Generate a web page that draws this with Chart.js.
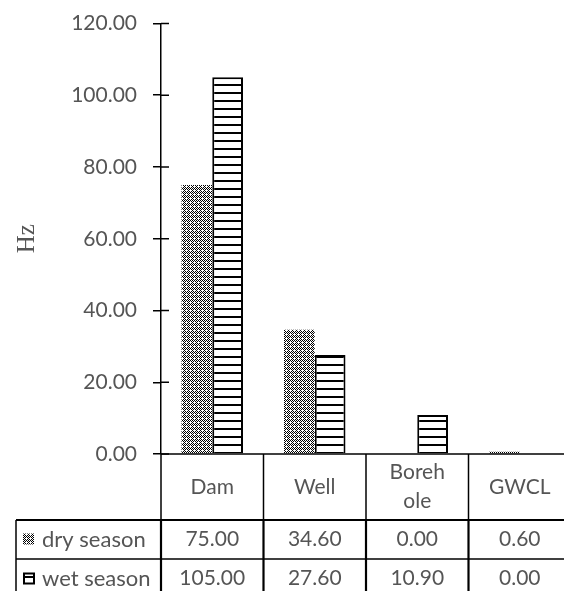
<!DOCTYPE html>
<html><head><meta charset="utf-8">
<script src="https://cdn.jsdelivr.net/npm/chart.js@4.4.1/dist/chart.umd.min.js"></script>
<style>
html,body{margin:0;padding:0;background:#fff;overflow:hidden;width:564px;height:591px}
#wrap{position:absolute;left:0;top:0;width:580px;height:591px}
</style>
</head><body><div id="wrap"><canvas id="c" width="580" height="591"></canvas></div>
<script>
const categories = ["Dam", "Well", "Borehole", "GWCL"];
const categoryLines = [["Dam"], ["Well"], ["Boreh", "ole"], ["GWCL"]];
const seriesNames = ["dry season", "wet season"];
const drySeason = [75.00, 34.60, 0.00, 0.60];
const wetSeason = [105.00, 27.60, 10.90, 0.00];
const yMin = 0, yMax = 120, yStep = 20;
const yTitle = "Hz";

const TEXT = '#555555';
const FONT = 'Lato';
const canvas = document.getElementById('c');
const mainCtx = canvas.getContext('2d');

function makeDry() {
  const c = document.createElement('canvas'); c.width = 4; c.height = 4;
  const g = c.getContext('2d');
  g.fillStyle = '#fff'; g.fillRect(0, 0, 4, 4); g.fillStyle = '#000';
  for (let y = 0; y < 4; y++) for (let x = 0; x < 4; x++) {
    if ((x + y) % 2 === 0 && !(x === 2 && y === 2)) g.fillRect(x, y, 1, 1);
  }
  return mainCtx.createPattern(c, 'repeat');
}
function makeWet() {
  const c = document.createElement('canvas'); c.width = 8; c.height = 8;
  const g = c.getContext('2d');
  g.fillStyle = '#fff'; g.fillRect(0, 0, 8, 8);
  g.fillStyle = '#000'; g.fillRect(0, 4, 8, 2);
  return mainCtx.createPattern(c, 'repeat');
}
const dryPat = makeDry();
const wetPat = makeWet();

const crossTicks = {
  id: 'crossTicks',
  afterDatasetsDraw(chart) {
    const { ctx, scales: { y } } = chart;
    ctx.save();
    ctx.strokeStyle = '#000'; ctx.lineWidth = 1.5;
    y.ticks.forEach(t => {
      const py = y.getPixelForValue(t.value);
      ctx.beginPath(); ctx.moveTo(y.right, py); ctx.lineTo(y.right + 8, py); ctx.stroke();
    });
    ctx.restore();
  }
};

const tablePlugin = {
  id: 'dataTable',
  afterDraw(chart) {
    const { ctx, chartArea: ca, scales: { x } } = chart;
    const n = categories.length;
    const colW = (ca.right - ca.left) / n;
    const legendLeft = 16;
    const top = ca.bottom, r1 = top + 66, r2 = r1 + 39, r3 = r2 + 39;
    const line = (x1, y1, x2, y2, w) => { ctx.lineWidth = w; ctx.beginPath(); ctx.moveTo(x1, y1); ctx.lineTo(x2, y2); ctx.stroke(); };
    ctx.save();
    ctx.strokeStyle = '#000';
    line(ca.left, top, ca.right, top, 1.5);
    line(legendLeft, r1, ca.right, r1, 1.8);
    line(legendLeft, r2, ca.right, r2, 1.5);
    line(legendLeft, r3, ca.right, r3, 1.5);
    line(legendLeft, r1, legendLeft, r3, 1.5);
    for (let i = 0; i <= n; i++) {
      const xx = x.getPixelForValue(0) - colW / 2 + i * colW;
      line(xx, top, xx, r1, 1.5);
      line(xx, r1, xx, r3, 2.2);
    }
    ctx.fillStyle = TEXT;
    ctx.font = '21px ' + FONT;
    ctx.textAlign = 'center'; ctx.textBaseline = 'middle';
    const series = [drySeason, wetSeason];
    for (let i = 0; i < n; i++) {
      const cx = x.getPixelForValue(i);
      const lines = categoryLines[i];
      const lh = 29;
      const cy = (top + r1) / 2;
      lines.forEach((s, k) => ctx.fillText(s, cx, cy + (k - (lines.length - 1) / 2) * lh));
      ctx.fillText(series[0][i].toFixed(2), cx, (r1 + r2) / 2);
      ctx.fillText(series[1][i].toFixed(2), cx, (r2 + r3) / 2);
    }
    // legend keys
    ctx.textAlign = 'left';
    const keyX = 23;
    const cy1 = (r1 + r2) / 2, cy2 = (r2 + r3) / 2;
    ctx.fillStyle = dryPat; ctx.fillRect(keyX, cy1 - 6, 11, 11);
    ctx.fillStyle = '#fff'; ctx.fillRect(keyX, cy2 - 6, 11, 11);
    ctx.lineWidth = 2; ctx.strokeStyle = '#000';
    ctx.strokeRect(keyX + 1, cy2 - 5, 10, 10);
    ctx.beginPath(); ctx.moveTo(keyX + 1, cy2 - 1.5); ctx.lineTo(keyX + 11, cy2 - 1.5); ctx.stroke();
    ctx.fillStyle = TEXT;
    ctx.font = '22px ' + FONT;
    ctx.fillText(seriesNames[0], 42, cy1);
    ctx.fillText(seriesNames[1], 42, cy2);
    ctx.restore();
  }
};

new Chart(canvas, {
  type: 'bar',
  data: {
    labels: categories,
    datasets: [
      { label: seriesNames[0], data: drySeason, backgroundColor: dryPat, borderWidth: 0 },
      { label: seriesNames[1], data: wetSeason, backgroundColor: wetPat, borderColor: '#000', borderWidth: 2 }
    ]
  },
  options: {
    responsive: false,
    animation: false,
    devicePixelRatio: 1,
    layout: { padding: { top: 23.5, right: 9, bottom: 137, left: 0 } },
    datasets: { bar: { categoryPercentage: 0.6, barPercentage: 1.0 } },
    plugins: { legend: { display: false }, tooltip: { enabled: false } },
    scales: {
      x: { display: false, offset: true },
      y: {
        min: yMin, max: yMax,
        afterFit(s) { s.width = 161; s.paddingTop = 10; s.paddingBottom = 10; },
        ticks: { stepSize: yStep, padding: 16, color: TEXT, font: { family: FONT, size: 21 },
          callback: v => Number(v).toFixed(2) },
        grid: { display: true, drawOnChartArea: false, drawTicks: true, tickLength: 8, color: '#000', lineWidth: 1.5 },
        border: { display: true, color: '#000', width: 1.5 },
        title: { display: true, text: yTitle, color: TEXT, font: { family: 'Liberation Serif', size: 25, weight: 'normal' }, padding: { top: 12, bottom: 0 } }
      }
    }
  },
  plugins: [crossTicks, tablePlugin]
});
</script></body></html>
